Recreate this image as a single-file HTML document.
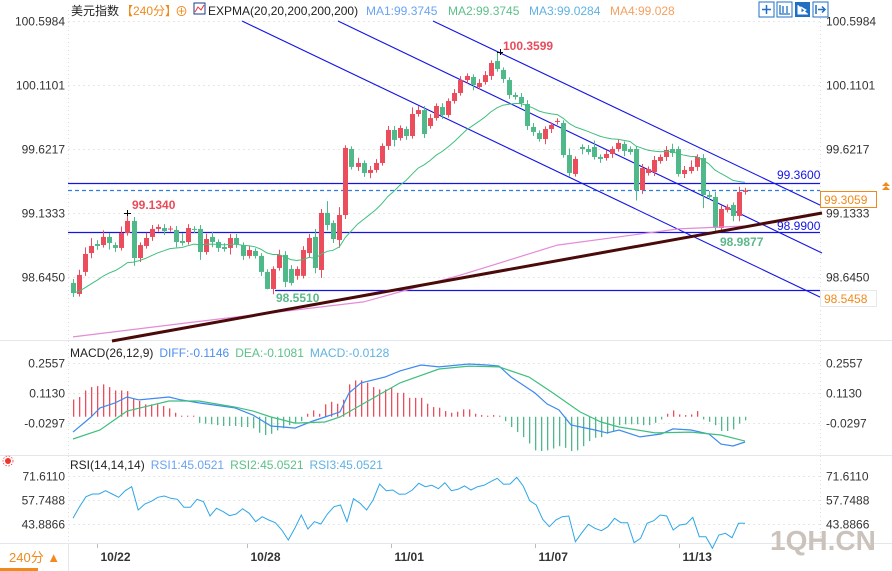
<!DOCTYPE html>
<html><head><meta charset="utf-8">
<style>
html,body{margin:0;padding:0;background:#fff;}
body{width:892px;height:571px;overflow:hidden;position:relative;font-family:"Liberation Sans","Noto Sans CJK SC",sans-serif;}
svg{position:absolute;left:0;top:0;}
text{font-family:"Liberation Sans","Noto Sans CJK SC",sans-serif;}
</style></head>
<body>
<svg id="chart" width="892" height="571" viewBox="0 0 892 571" xmlns="http://www.w3.org/2000/svg">
  <g font-size="12">
    <text x="71" y="15" fill="#222">美元指数</text>
    <text x="121" y="15" fill="#f08a1c">【240分】</text>
    <text x="175" y="16" fill="#f08a1c" font-size="13">⊕</text>
    <rect x="194" y="3" width="11" height="11" fill="#fff" stroke="#1a3a8a"/>
    <polyline points="195,12 198,7 201,10 204,5" fill="none" stroke="#e33" stroke-width="1"/>
    <text x="208" y="15" fill="#222">EXPMA(20,20,200,200,200)</text>
    <text x="366" y="15" fill="#6aa3f2">MA1:99.3745</text>
    <text x="448" y="15" fill="#5cc08a">MA2:99.3745</text>
    <text x="529" y="15" fill="#5fb2e3">MA3:99.0284</text>
    <text x="610" y="15" fill="#f5a060">MA4:99.028</text>
  </g>
  <g>
    <rect x="759" y="2" width="15" height="15" fill="#fff" stroke="#1f6fc5"/>
    <path d="M766.5 5v9M762 9.5h9" stroke="#1f6fc5" stroke-width="1.5"/>
    <rect x="777" y="2" width="15" height="15" fill="#fff" stroke="#1f6fc5"/>
    <path d="M780 5v9h10M783 6v7M787 6v7" stroke="#1f6fc5" stroke-width="1.3" fill="none"/>
    <rect x="795" y="2" width="15" height="15" fill="#1f6fc5"/>
    <path d="M798 5v9h10M801 7l5 3-5 3z" stroke="#fff" fill="#fff" stroke-width="1"/>
    <rect x="813" y="2" width="15" height="15" fill="#fff" stroke="#1f6fc5"/>
    <path d="M816 5v9M818 9.5h7M822 6.5l3 3-3 3" stroke="#1f6fc5" stroke-width="1.5" fill="none"/>
  </g>
  <g id="grid"></g>
  <g id="annot"></g>
  <g id="candles"></g>
  <g id="overlay"></g>
  <g id="labels"></g>
  <g id="macd"></g>
  <g id="rsi"></g>
  <g id="xaxis"></g>
  <text x="770" y="550" font-size="28" fill="#cbc3bb" font-weight="bold">1QH.CN</text>
</svg>
<script>
// ---------- DATA ----------
const openP = [98.600,98.516,98.684,98.828,98.897,98.889,98.951,98.889,98.867,98.981,99.073,98.790,98.882,98.951,99.012,99.019,99.012,99.004,98.920,98.912,99.012,99.012,98.836,98.951,98.912,98.874,98.867,98.943,98.889,98.806,98.844,98.806,98.684,98.554,98.714,98.813,98.706,98.654,98.654,98.828,98.951,98.699,99.134,99.057,98.928,99.118,99.622,99.485,99.515,99.439,99.462,99.515,99.645,99.767,99.706,99.774,99.721,99.889,99.919,99.797,99.858,99.942,99.881,99.988,100.049,100.148,100.171,100.095,100.133,100.179,100.293,100.225,100.148,100.034,100.019,99.965,99.790,99.744,99.698,99.774,99.828,99.820,99.576,99.431,99.637,99.622,99.637,99.561,99.553,99.584,99.622,99.660,99.622,99.622,99.309,99.439,99.446,99.530,99.561,99.622,99.622,99.431,99.454,99.485,99.553,99.271,99.256,99.019,99.157,99.195,99.111,99.294];
const closeP = [98.523,98.661,98.821,98.882,98.882,98.951,98.905,98.867,98.981,99.073,98.790,98.889,98.943,99.012,99.027,98.996,99.015,98.912,98.905,99.019,99.010,98.836,98.935,98.912,98.867,98.859,98.943,98.897,98.806,98.851,98.806,98.684,98.554,98.706,98.813,98.608,98.600,98.706,98.851,98.943,98.714,99.134,99.042,98.935,99.118,99.630,99.485,99.515,99.439,99.462,99.515,99.645,99.767,99.691,99.782,99.721,99.889,99.919,99.736,99.858,99.950,99.881,99.988,100.049,100.148,100.179,100.110,100.125,100.186,100.278,100.232,100.156,100.034,100.019,99.973,99.797,99.752,99.698,99.774,99.805,99.836,99.576,99.439,99.546,99.622,99.599,99.561,99.546,99.584,99.622,99.668,99.607,99.599,99.309,99.477,99.469,99.538,99.561,99.614,99.591,99.431,99.462,99.485,99.561,99.271,99.256,99.019,99.164,99.179,99.111,99.294,99.306];
const upWick = [0.03,0.04,0.05,0.06,0.03,0.05,0.03,0.02,0.05,0.061,0.03,0.02,0.04,0.03,0.02,0.03,0.02,0.03,0.06,0.03,0.02,0.03,0.04,0.04,0.02,0.03,0.03,0.03,0.02,0.03,0.02,0.02,0.02,0.02,0.04,0.03,0.03,0.02,0.03,0.03,0.06,0.03,0.09,0.02,0.06,0.02,0.02,0.04,0.02,0.03,0.03,0.02,0.03,0.03,0.02,0.02,0.05,0.03,0.03,0.03,0.02,0.03,0.02,0.03,0.03,0.02,0.02,0.03,0.03,0.02,0.067,0.02,0.02,0.02,0.03,0.03,0.03,0.02,0.02,0.02,0.02,0.02,0.05,0.02,0.02,0.03,0.05,0.02,0.03,0.02,0.03,0.02,0.02,0.02,0.03,0.02,0.03,0.02,0.03,0.04,0.02,0.03,0.05,0.02,0.03,0.03,0.04,0.03,0.02,0.02,0.04,0.02];
const dnWick = [0.03,0.02,0.03,0.04,0.03,0.02,0.05,0.03,0.02,0.02,0.06,0.03,0.02,0.03,0.02,0.03,0.02,0.04,0.02,0.02,0.03,0.06,0.02,0.04,0.03,0.02,0.05,0.03,0.03,0.02,0.02,0.03,0.003,0.04,0.02,0.04,0.02,0.03,0.02,0.03,0.04,0.06,0.04,0.03,0.06,0.03,0.02,0.03,0.03,0.04,0.02,0.02,0.03,0.05,0.02,0.03,0.02,0.02,0.03,0.02,0.02,0.03,0.02,0.02,0.02,0.03,0.04,0.02,0.02,0.03,0.02,0.03,0.03,0.02,0.03,0.03,0.03,0.02,0.04,0.03,0.02,0.02,0.03,0.02,0.04,0.02,0.02,0.03,0.02,0.03,0.02,0.04,0.02,0.08,0.03,0.02,0.03,0.02,0.03,0.03,0.02,0.03,0.02,0.03,0.10,0.02,0.031,0.03,0.02,0.04,0.04,0.02];
const ma200Idx = [0,20,48,64,80,100,111];
const ma200Val = [98.188,98.302,98.455,98.66,98.889,99.012,99.034];
const priceTicks = [100.5984,100.1101,99.6217,99.1333,98.6450];
const macdTicks = [0.2557,0.1130,-0.0297];
const rsiTicks = [71.6110,57.7488,43.8866];
const diffIdx = [0,3,4.5,7,9,11,16,18,21,27,30,33,35,37,40,42,44.5,46,48,52,54.5,58,61,66,69,71,73,77,79,81,83,87,89,91,94.5,98,100,103,106,108,110,112];
const diffVal = [-0.073,-0.001,0.042,0.066,0.094,0.080,0.094,0.080,0.066,0.042,0.008,-0.044,-0.049,-0.054,-0.020,-0.001,0.023,0.113,0.161,0.189,0.218,0.246,0.237,0.251,0.246,0.241,0.189,0.113,0.061,0.032,-0.039,-0.063,-0.077,-0.063,-0.096,-0.082,-0.058,-0.063,-0.082,-0.130,-0.139,-0.120];
const deaIdx = [0,4.5,9,16,21,27,30,33,37,42,44.5,48,54.5,61,66,71,76,80,84.5,88,91,97,103,108,112];
const deaVal = [-0.106,-0.063,0.027,0.075,0.075,0.046,0.027,-0.001,-0.030,-0.025,-0.001,0.056,0.161,0.227,0.241,0.237,0.189,0.113,0.023,-0.025,-0.049,-0.077,-0.073,-0.087,-0.116];
const macdHist = [0.082,0.094,0.125,0.141,0.146,0.154,0.141,0.125,0.125,0.122,0.087,0.075,0.059,0.059,0.059,0.051,0.040,0.019,0.005,0.005,0.005,-0.029,-0.033,-0.036,-0.040,-0.044,-0.044,-0.044,-0.049,-0.049,-0.055,-0.076,-0.087,-0.081,-0.065,-0.055,-0.040,-0.029,-0.021,0.014,0.030,0.014,0.059,0.071,0.062,0.081,0.154,0.173,0.173,0.162,0.141,0.130,0.130,0.138,0.114,0.114,0.090,0.090,0.090,0.062,0.046,0.043,0.027,0.019,0.024,0.035,0.035,0.014,0.008,0.005,0.008,0.005,-0.021,-0.049,-0.073,-0.097,-0.127,-0.160,-0.163,-0.160,-0.151,-0.140,-0.148,-0.163,-0.160,-0.140,-0.116,-0.100,-0.097,-0.081,-0.068,-0.040,-0.036,-0.036,-0.036,-0.040,-0.040,-0.029,-0.013,0.014,0.030,0.011,0.008,0.011,0.027,-0.013,-0.024,-0.040,-0.068,-0.068,-0.060,-0.033,-0.017];
const rsiVal = [47.17,53.90,59.67,61.22,61.22,63.14,61.22,59.29,63.14,65.45,51.98,55.44,56.98,59.29,60.06,58.72,58.14,53.52,53.52,58.14,56.79,48.51,52.94,51.02,48.70,49.66,52.75,50.05,45.23,48.12,46.20,44.66,40.42,34.65,41.39,49.09,41.00,45.23,43.89,49.66,53.90,54.86,45.23,58.52,55.83,51.98,57.75,66.99,63.14,63.53,61.03,61.22,63.53,67.38,65.45,66.22,64.30,67.76,63.14,63.91,65.84,63.53,65.45,66.22,68.34,70.27,66.80,66.99,70.84,65.84,57.36,54.86,46.58,42.35,46.20,48.12,48.51,33.69,38.88,43.70,41.39,40.04,42.35,47.17,44.66,44.66,33.11,35.61,44.28,45.81,49.09,48.51,40.42,43.31,43.89,47.74,36.57,36.57,29.83,37.53,38.50,35.99,44.28,44.28];
const dateLabels = ["10/22","10/28","11/01","11/07","11/13"];
const dateIdx = [4,29,53,77,101];

// ---------- SCALES ----------
const SVGNS="http://www.w3.org/2000/svg";
const X0=73, X1=745, N=113;
function xAt(i,n){return X0 + i*(X1-X0)/(n-1);}
function px(x){return Math.round(x)+0.5;}
function py(p){return 21+(100.5984-p)*131.07;}
function my(v){return 363+(0.2557-v)*210.2;}
function ry(v){return 476+(71.611-v)*1.7313;}
function mk(tag,attrs,parent){const e=document.createElementNS(SVGNS,tag);for(const k in attrs)e.setAttribute(k,attrs[k]);parent.appendChild(e);return e;}
const RED="#eb4d5c", GREEN="#4fb98a";

// ---------- GRID / FRAMES ----------
const grid=document.getElementById('grid');
[[10,340],[341,455],[456,543]].forEach(function(r){
  mk('line',{x1:68.5,y1:r[0],x2:68.5,y2:r[1],stroke:'#ddd','stroke-dasharray':'1,3'},grid);
  mk('line',{x1:820.5,y1:r[0],x2:820.5,y2:r[1],stroke:'#ddd','stroke-dasharray':'1,3'},grid);
});
mk('line',{x1:0,y1:340.5,x2:892,y2:340.5,stroke:'#e3e6ea'},grid);
mk('line',{x1:0,y1:455.5,x2:892,y2:455.5,stroke:'#e3e6ea'},grid);
mk('line',{x1:0,y1:543.5,x2:892,y2:543.5,stroke:'#e3e6ea'},grid);
mk('line',{x1:68.5,y1:543,x2:68.5,y2:571,stroke:'#e3e6ea'},grid);
const labels=document.getElementById('labels');
function axisLabel(txt,y,name){
  let t=mk('text',{x:65,y:y+4,'text-anchor':'end','font-size':12,fill:'#333'},labels);
  t.textContent=txt;
  
  
  let t2=mk('text',{x:826,y:y+4,'font-size':12,fill:'#333'},labels);
  t2.textContent=txt;
  
  
}
priceTicks.forEach(function(p){
  const y=Math.round(py(p))+0.5;
  let l=mk('line',{x1:68,y1:y,x2:820,y2:y,stroke:'#e6e6e6','stroke-dasharray':'2,3'},grid);
  
  
  axisLabel(p.toFixed(4),y,'price-tick');
});
macdTicks.forEach(function(v){
  const y=Math.round(my(v))+0.5;
  mk('line',{x1:68,y1:y,x2:820,y2:y,stroke:'#e6e6e6','stroke-dasharray':'2,3'},grid);
  axisLabel(v.toFixed(4),y,'macd-tick');
});
rsiTicks.forEach(function(v){
  const y=Math.round(ry(v))+0.5;
  mk('line',{x1:68,y1:y,x2:820,y2:y,stroke:'#e6e6e6','stroke-dasharray':'2,3'},grid);
  axisLabel(v.toFixed(4),y,'rsi-tick');
});

// ---------- ANNOTATION LINES ----------
const annot=document.getElementById('annot');
const hLines=[[99.36,68,'solid'],[99.3059,68,'dash'],[98.99,68,'solid'],[98.5458,275,'solid']];
hLines.forEach(function(h){
  const y=Math.round(py(h[0]))+0.5;
  let l=mk('line',{x1:h[1],y1:y,x2:820,y2:y,stroke:h[2]==='dash'?'#2f7fe0':'#1414e6','stroke-width':1.2},annot);
  if(h[2]==='dash')l.setAttribute('stroke-dasharray','4,3');
  
  
});
const chan=[[433,21,822,206],[338,21,822,253],[242,21,822,298]];
chan.forEach(function(c){
  let l=mk('line',{x1:c[0],y1:c[1],x2:c[2],y2:c[3],stroke:'#1414e6','stroke-width':1.1},annot);
  
  
});

// ---------- OVERLAYS ----------
const ov=document.getElementById('overlay');
let pts=[];
for(let k=0;k<ma200Idx.length;k++)pts.push(xAt(ma200Idx[k],closeP.length).toFixed(1)+','+py(ma200Val[k]).toFixed(1));
let ma200=mk('polyline',{points:pts.join(' '),fill:'none',stroke:'#e58ad8','stroke-width':1.2},ov);


let tl=mk('line',{x1:112,y1:341,x2:822,y2:213,stroke:'#4a0a0a','stroke-width':3},ov);



// ---------- CANDLES ----------
const cg=document.getElementById('candles');
const n=closeP.length;
let ema=[],e=closeP[0];
for(let i=0;i<n;i++){e=(i===0)?closeP[0]:(2*closeP[i]+19*e)/21;ema.push(e);}
for(let i=0;i<n;i++){
  const x=px(xAt(i,n)), o=openP[i], c=closeP[i];
  const up=c>=o, col=up?RED:GREEN;
  const hi=Math.max(o,c)+upWick[i], lo=Math.min(o,c)-dnWick[i];
  const g=mk('g',{},cg);
  
  
  mk('line',{x1:x,y1:py(hi),x2:x,y2:py(lo),stroke:col,'stroke-width':1},g);
  const yt=py(Math.max(o,c)), yb=py(Math.min(o,c));
  mk('rect',{x:x-2.5,y:yt,width:5,height:Math.max(1,yb-yt),fill:col},g);
}
let ep=[];for(let i=0;i<n;i++)ep.push(xAt(i,n).toFixed(1)+','+py(ema[i]).toFixed(1));
let emaLine=mk('polyline',{points:ep.join(' '),fill:'none',stroke:'#3fbf7f','stroke-width':1},ov);



// ---------- PRICE LABELS ----------
function ptxt(txt,x,y,col,name,anchor){
  let t=mk('text',{x:x,y:y,'font-size':12,fill:col,'text-anchor':anchor||'start'},labels);
  t.textContent=txt;
  
  
  return t;
}
ptxt('100.3599',503,50,'#e84c5a','high-price-label').setAttribute('font-weight','bold');
ptxt('99.1340',132,209,'#e84c5a','local-high-label').setAttribute('font-weight','bold');
ptxt('98.5510',276,302,'#5cb88a','low-price-label').setAttribute('font-weight','bold');
ptxt('98.9877',720,246,'#5cb88a','recent-low-label').setAttribute('font-weight','bold');
ptxt('99.3600',777,179,'#1414e6','level-9936-label');
ptxt('98.9900',777,230,'#1414e6','level-9899-label');
mk('path',{d:'M497 52.5h6M500.5 49v6M124 213.5h7M127.5 210v6',stroke:'#000','stroke-width':1},labels);
let box=mk('rect',{x:820.5,y:191.5,width:56,height:16,fill:'#fff',stroke:'#f08a1c'},labels);


ptxt('99.3059',824,204,'#f08a1c','last-price-label');
mk('path',{d:'M882 186l4 -4 4 4zM882 190l4 -4 4 4z',fill:'#f08a1c'},labels);
mk('rect',{x:820.5,y:290.5,width:56,height:16,fill:'#fff',stroke:'#e8e8e8'},labels);
ptxt('98.5458',824,303,'#f08a1c','level-98545-label');

// ---------- MACD ----------
const mg=document.getElementById('macd');
const mt=mk('text',{x:70,y:357,'font-size':12},mg);


mt.innerHTML='<tspan fill="#222">MACD(26,12,9)</tspan><tspan fill="#4d8ef0" dx="6">DIFF:-0.1146</tspan><tspan fill="#5cc08a" dx="6">DEA:-0.1081</tspan><tspan fill="#5fb2e3" dx="6">MACD:-0.0128</tspan>';
const z=my(0);
for(let i=0;i<macdHist.length;i++){
  const v=macdHist[i], x=Math.round(xAt(i,macdHist.length));
  const y1=Math.min(z,my(v)), h=Math.max(1,Math.abs(my(v)-z));
  let b=mk('rect',{x:x,y:y1,width:1.3,height:h,fill:v>=0?RED:GREEN},mg);
  
  
}
let dp=[];for(let k=0;k<diffIdx.length;k++)dp.push(xAt(diffIdx[k],N).toFixed(1)+','+my(diffVal[k]).toFixed(1));
let dl=mk('polyline',{points:dp.join(' '),fill:'none',stroke:'#3d8af0','stroke-width':1.2},mg);


let ap=[];for(let k=0;k<deaIdx.length;k++)ap.push(xAt(deaIdx[k],N).toFixed(1)+','+my(deaVal[k]).toFixed(1));
let al=mk('polyline',{points:ap.join(' '),fill:'none',stroke:'#3fbf7f','stroke-width':1.2},mg);



// ---------- RSI ----------
const rg=document.getElementById('rsi');
const rt=mk('text',{x:70,y:469,'font-size':12},rg);


rt.innerHTML='<tspan fill="#222">RSI(14,14,14)</tspan><tspan fill="#6aa3f2" dx="6">RSI1:45.0521</tspan><tspan fill="#5cc08a" dx="6">RSI2:45.0521</tspan><tspan fill="#5fb2e3" dx="6">RSI3:45.0521</tspan>';
let ric=mk('g',{},rg);


mk('circle',{cx:8,cy:461,r:3,fill:'#e33'},ric);
mk('circle',{cx:8,cy:461,r:5,fill:'none',stroke:'#e33','stroke-width':0.8,'stroke-dasharray':'1.5,1.5'},ric);
let rp=[];for(let i=0;i<rsiVal.length;i++)rp.push(xAt(i,rsiVal.length).toFixed(1)+','+ry(rsiVal[i]).toFixed(1));
let rl=mk('polyline',{points:rp.join(' '),fill:'none',stroke:'#2ea6e6','stroke-width':1},rg);



// ---------- X AXIS ----------
const xg=document.getElementById('xaxis');
for(let k=0;k<dateLabels.length;k++){
  const x=px(xAt(dateIdx[k],N));
  mk('line',{x1:x,y1:544,x2:x,y2:548,stroke:'#bbb'},xg);
  let t=mk('text',{x:x+3,y:561,'font-size':12,'font-weight':'bold',fill:'#333'},xg);
  t.textContent=dateLabels[k];
  
  
}
let pb=mk('text',{x:9,y:562,'font-size':13,fill:'#f08a1c'},xg);
pb.textContent='240分 ▲';


mk('rect',{x:0,y:568,width:38,height:3,fill:'#f08a1c'},xg);
</script>
</body></html>
